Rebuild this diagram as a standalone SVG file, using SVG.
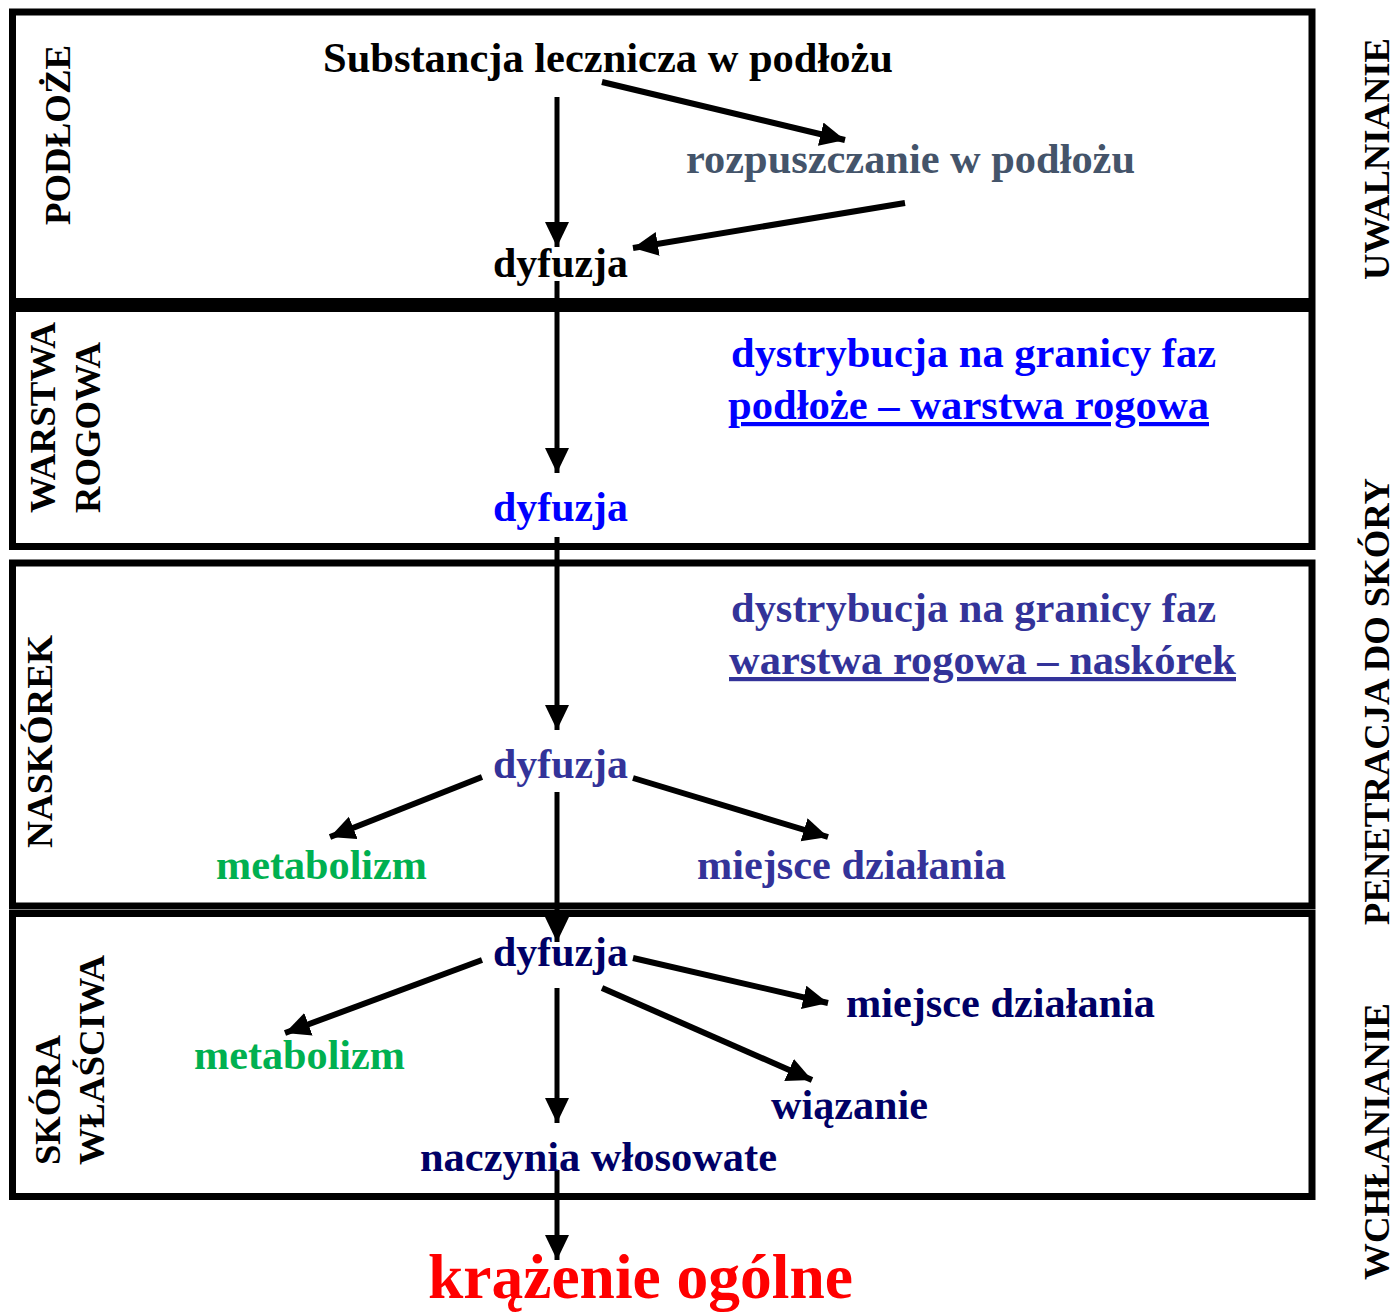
<svg xmlns="http://www.w3.org/2000/svg" width="1396" height="1313" viewBox="0 0 1396 1313">
<style>
text{font-family:"Liberation Serif","Times New Roman",serif;font-weight:bold;font-size:42px}
.lbl{font-size:36px;fill:#000}
.box{fill:none;stroke:#000;stroke-width:7}
.arr{stroke:#000;stroke-width:5;fill:none;marker-end:url(#ah)}
.darr{stroke:#000;stroke-width:6;fill:none;marker-end:url(#ah)}
.k{fill:#000}.sl{fill:#44546A}.bl{fill:#0000FF}.in{fill:#333399}.nv{fill:#000066}.gr{fill:#00B050}.rd{fill:#FF0000;font-size:64px}
</style>
<defs>
<marker id="ah" markerUnits="userSpaceOnUse" markerWidth="27" markerHeight="25" refX="25" refY="12" orient="auto">
<path d="M0,0 L25,12 L0,24 z" fill="#000"/>
</marker>
</defs>
<rect width="1396" height="1313" fill="#fff"/>
<g id="layers">
<rect id="box-podloze" class="box" x="12.5" y="12" width="1299.5" height="289.5"/>
<rect id="box-warstwa" class="box" x="12.5" y="308.5" width="1299.5" height="238"/>
<rect id="box-naskorek" class="box" x="12.5" y="563" width="1299.5" height="343"/>
<rect id="box-skora" class="box" x="12.5" y="913.5" width="1299.5" height="283"/>
</g>
<g id="side-labels">
<text class="lbl" transform="translate(70,225) rotate(-90)" textLength="180" lengthAdjust="spacingAndGlyphs">PODŁOŻE</text>
<text class="lbl" transform="translate(55,513) rotate(-90)" textLength="191" lengthAdjust="spacingAndGlyphs">WARSTWA</text>
<text class="lbl" transform="translate(100,513) rotate(-90)" textLength="171" lengthAdjust="spacingAndGlyphs">ROGOWA</text>
<text class="lbl" transform="translate(52,848) rotate(-90)" textLength="213" lengthAdjust="spacingAndGlyphs">NASKÓREK</text>
<text class="lbl" transform="translate(60,1165) rotate(-90)" textLength="130" lengthAdjust="spacingAndGlyphs">SKÓRA</text>
<text class="lbl" transform="translate(104,1165) rotate(-90)" textLength="210" lengthAdjust="spacingAndGlyphs">WŁAŚCIWA</text>
<text class="lbl" transform="translate(1389,280) rotate(-90)" textLength="242" lengthAdjust="spacingAndGlyphs">UWALNIANIE</text>
<text class="lbl" transform="translate(1389,925) rotate(-90)" textLength="447" lengthAdjust="spacingAndGlyphs">PENETRACJA DO SKÓRY</text>
<text class="lbl" transform="translate(1389,1280) rotate(-90)" textLength="277" lengthAdjust="spacingAndGlyphs">WCHŁANIANIE</text>
</g>
<g id="connectors">
<line class="arr" x1="557" y1="97" x2="557" y2="247"/>
<line class="arr" x1="557" y1="281" x2="557" y2="473"/>
<line class="arr" x1="557" y1="537" x2="557" y2="730"/>
<line class="arr" x1="557" y1="792" x2="557" y2="942"/>
<line class="arr" x1="557" y1="988" x2="557" y2="1123"/>
<line class="arr" x1="557" y1="1170" x2="557" y2="1260"/>
<line class="darr" x1="602" y1="82" x2="845" y2="140"/>
<line class="darr" x1="905" y1="203" x2="633" y2="248"/>
<line class="darr" x1="482" y1="777" x2="330" y2="837"/>
<line class="darr" x1="633" y1="778" x2="828" y2="837"/>
<line class="darr" x1="482" y1="960" x2="285" y2="1033"/>
<line class="darr" x1="633" y1="958" x2="828" y2="1003"/>
<line class="darr" x1="602" y1="988" x2="812" y2="1080"/>
</g>
<g id="n-substancja"><text class="k" x="323" y="72" textLength="570" lengthAdjust="spacingAndGlyphs">Substancja lecznicza w podłożu</text></g>
<g id="n-rozpuszczanie"><text class="sl" x="686" y="173" textLength="449" lengthAdjust="spacingAndGlyphs">rozpuszczanie w podłożu</text></g>
<g id="n-dyfuzja1"><text class="k" x="493" y="277" textLength="135" lengthAdjust="spacingAndGlyphs">dyfuzja</text></g>
<g id="n-dystr1">
<text class="bl" x="731" y="367" textLength="485" lengthAdjust="spacingAndGlyphs">dystrybucja na granicy faz</text>
<text class="bl" x="728" y="419" textLength="481" lengthAdjust="spacingAndGlyphs" text-decoration="underline">podłoże – warstwa rogowa</text>
</g>
<g id="n-dyfuzja2"><text class="bl" x="493" y="521" textLength="135" lengthAdjust="spacingAndGlyphs">dyfuzja</text></g>
<g id="n-dystr2">
<text class="in" x="731" y="622" textLength="485" lengthAdjust="spacingAndGlyphs">dystrybucja na granicy faz</text>
<text class="in" x="729" y="674" textLength="507" lengthAdjust="spacingAndGlyphs" text-decoration="underline">warstwa rogowa – naskórek</text>
</g>
<g id="n-dyfuzja3"><text class="in" x="493" y="778" textLength="135" lengthAdjust="spacingAndGlyphs">dyfuzja</text></g>
<g id="n-metabolizm1"><text class="gr" x="216" y="879" textLength="211" lengthAdjust="spacingAndGlyphs">metabolizm</text></g>
<g id="n-miejsce1"><text class="in" x="697" y="879" textLength="309" lengthAdjust="spacingAndGlyphs">miejsce działania</text></g>
<g id="n-dyfuzja4"><text class="nv" x="493" y="966" textLength="135" lengthAdjust="spacingAndGlyphs">dyfuzja</text></g>
<g id="n-metabolizm2"><text class="gr" x="194" y="1069" textLength="211" lengthAdjust="spacingAndGlyphs">metabolizm</text></g>
<g id="n-miejsce2"><text class="nv" x="846" y="1017" textLength="309" lengthAdjust="spacingAndGlyphs">miejsce działania</text></g>
<g id="n-wiazanie"><text class="nv" x="771" y="1119" textLength="157" lengthAdjust="spacingAndGlyphs">wiązanie</text></g>
<g id="n-naczynia"><text class="nv" x="420" y="1171" textLength="357" lengthAdjust="spacingAndGlyphs">naczynia włosowate</text></g>
<g id="n-krazenie"><text class="rd" x="428" y="1298" textLength="425" lengthAdjust="spacingAndGlyphs">krążenie ogólne</text></g>
</svg>
